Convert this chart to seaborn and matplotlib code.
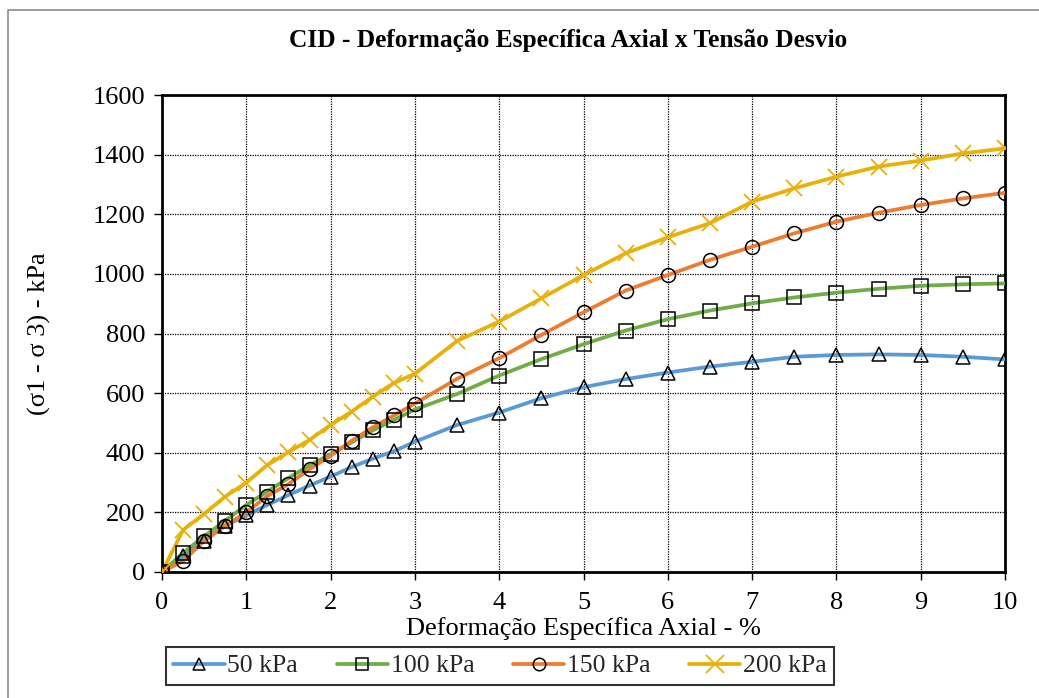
import numpy as np
import pandas as pd
import matplotlib
matplotlib.use("Agg")
import matplotlib.pyplot as plt
import seaborn as sns
from matplotlib.patches import Rectangle

# ---- data ----
strain = [0, 0.25, 0.5, 0.75, 1, 1.25, 1.5, 1.75, 2, 2.25, 2.5, 2.75, 3,
          3.5, 4, 4.5, 5, 5.5, 6, 6.5, 7, 7.5, 8, 8.5, 9, 9.5, 10]
s50 = [0, 52, 105, 155, 190, 225, 258, 290, 320, 352, 380, 405, 437,
       493, 535, 583, 620, 647, 669, 689, 705, 722, 728, 730, 728, 722, 713]
s100 = [0, 64, 120, 172, 225, 270, 315, 358, 395, 435, 475, 510, 545,
        597, 659, 714, 764, 810, 848, 877, 901, 921, 937, 950, 960, 965, 968]
s150 = [0, 37, 105, 155, 200, 255, 295, 345, 390, 440, 485, 525, 565,
        648, 717, 795, 871, 944, 996, 1047, 1091, 1136, 1175, 1205, 1231, 1253, 1272]
s200 = [0, 141, 195, 253, 300, 359, 402, 443, 493, 538, 588, 634, 665,
        775, 840, 918, 996, 1069, 1123, 1170, 1242, 1287, 1326, 1360, 1380, 1404, 1421]
series_names = ["50 kPa", "100 kPa", "150 kPa", "200 kPa"]
series_vals = [s50, s100, s150, s200]

title = "CID - Deformação Específica Axial x Tensão Desvio"
xlabel = "Deformação Específica Axial - %"
ylabel = "(σ1 - σ 3) - kPa"

df = pd.concat([pd.DataFrame({"x": strain, "y": v, "s": n})
                for n, v in zip(series_names, series_vals)], ignore_index=True)

sns.set_theme(style="white")
plt.rcParams["font.family"] = ["Liberation Serif", "DejaVu Serif"]

fig = plt.figure(figsize=(10.39, 6.98), dpi=100)
ax = fig.add_axes([162/1039, 1-572/698, (1005-162)/1039, (572-95)/698])

colors = ["#5B9BD5", "#70AD47", "#ED7D31", "#E8B10A"]
markers = ["^", "s", "o", "x"]

sns.lineplot(data=df, x="x", y="y", hue="s", palette=colors, ax=ax,
             linewidth=2.7, legend=False, sort=False, zorder=3)

handles = []
for i, (n, c, m) in enumerate(zip(series_names, colors, markers)):
    sub = df[df["s"] == n]
    if m == "x":
        ax.plot(sub["x"], sub["y"], linestyle="none", marker="x", markersize=12,
                markeredgecolor=c, markeredgewidth=1.3, zorder=4)
        h, = ax.plot([], [], color=c, linewidth=2.7, marker="x", markersize=13,
                     markeredgecolor=c, markeredgewidth=1.3)
    else:
        ax.plot(sub["x"], sub["y"], linestyle="none", marker=m, markersize=10,
                markerfacecolor="none", markeredgecolor="black", markeredgewidth=1.1, zorder=4)
        h, = ax.plot([], [], color=c, linewidth=2.7, marker=m, markersize=9,
                     markerfacecolor="none", markeredgecolor="black", markeredgewidth=1.1)
    handles.append(h)

ax.set_xlim(0, 10)
ax.set_ylim(0, 1600)
ax.set_xticks(range(0, 11))
ax.set_yticks(range(0, 1601, 200))
ax.grid(True, color="black", linestyle=(0, (1, 1)), linewidth=0.9)
ax.set_axisbelow(True)
for sp in ax.spines.values():
    sp.set_visible(True)
    sp.set_color("black")
    sp.set_linewidth(2.0)
ax.tick_params(axis="both", direction="out", length=6, width=1, color="black",
               labelsize=19, labelcolor="black", bottom=True, left=True)
ax.tick_params(axis="x", pad=8.5)
ax.tick_params(axis="y", pad=6)
ax.set_xlabel(xlabel, fontsize=19, color="black", labelpad=2)
ax.set_ylabel(ylabel, fontsize=19, color="black", labelpad=30)
fig.text(568/1039, 1-40/698, title, ha="center", va="center",
         fontsize=18.3, fontweight="bold", color="black")

leg = fig.legend(handles, series_names, loc="center", ncol=4,
                 bbox_to_anchor=(500/1039, 1-666/698), fontsize=18.5,
                 frameon=True, fancybox=False, edgecolor="black",
                 handlelength=2.0, handletextpad=0.1, columnspacing=1.5,
                 borderpad=0.3)
leg.get_frame().set_linewidth(1.5)

fig.patches.append(Rectangle((8/1039, -0.05), 1.2, 1-10/698+0.05,
                             transform=fig.transFigure, fill=False,
                             edgecolor="#8c8c8c", linewidth=1.2))

fig.savefig("out.png", dpi=100)
